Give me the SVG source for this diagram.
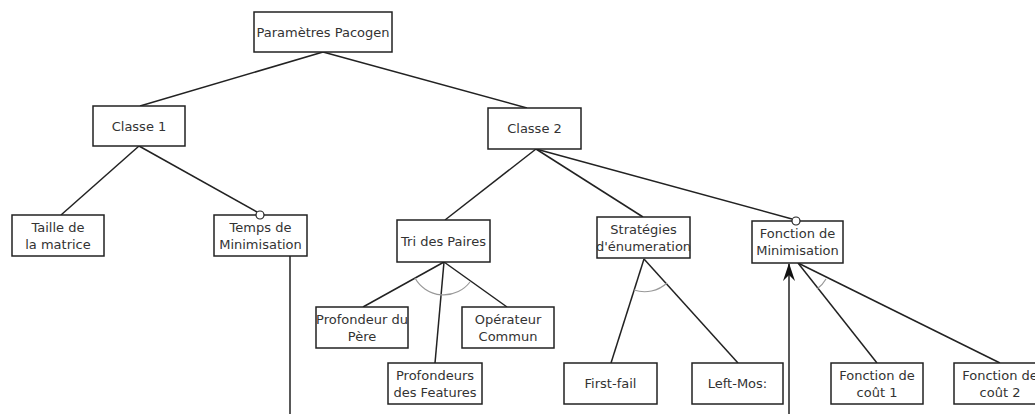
<svg xmlns="http://www.w3.org/2000/svg" width="1035" height="414" viewBox="0 0 1035 414">
<defs>
<style>
.box{fill:#fff;stroke:#222;stroke-width:1.5}
.t{font-family:"DejaVu Sans",sans-serif;font-size:13px;fill:#333;text-anchor:middle}
.c{stroke:#222;stroke-width:1.5;fill:none}
.arc{stroke:#999;stroke-width:1.2;fill:none}
.opt{fill:#fff;stroke:#222;stroke-width:1.2}
</style>
<marker id="ah" viewBox="0 0 18 12" refX="17" refY="6" markerWidth="18" markerHeight="12" markerUnits="userSpaceOnUse" orient="auto">
<path d="M18,6 L0,0 L6,6 L0,12 Z" fill="#111"/>
</marker>
</defs>
<rect width="1035" height="414" fill="#fff"/>
<g id="connectors">
<line class="c" x1="323" y1="52" x2="140" y2="106"/>
<line class="c" x1="323" y1="52" x2="527" y2="108"/>
<line class="c" x1="139" y1="146" x2="61" y2="215"/>
<line class="c" x1="139" y1="146" x2="257" y2="212"/>
<line class="c" x1="290" y1="256" x2="290" y2="414"/>
<line class="c" x1="536" y1="149" x2="445" y2="220"/>
<line class="c" x1="536" y1="149" x2="643" y2="217"/>
<line class="c" x1="536" y1="149" x2="792" y2="219"/>
<line class="c" x1="444" y1="262" x2="363" y2="307"/>
<line class="c" x1="444" y1="262" x2="507" y2="307"/>
<line class="c" x1="444" y1="262" x2="435" y2="363"/>
<path class="arc" d="M415,278 A33,33 0 0 0 470,282"/>
<line class="c" x1="644" y1="259" x2="611" y2="363"/>
<line class="c" x1="644" y1="259" x2="738" y2="363"/>
<path class="arc" d="M634,290 A33,33 0 0 0 667,283"/>
<line class="c" x1="798" y1="263" x2="877" y2="363"/>
<line class="c" x1="798" y1="263" x2="1000" y2="363"/>
<path class="arc" d="M817,289 A32,32 0 0 0 826,279"/>
<line class="c" x1="789" y1="414" x2="789" y2="264" marker-end="url(#ah)"/>
</g>
<g id="n-root"><rect class="box" x="254" y="12" width="138" height="40"/><text class="t" x="323" y="36.5">Paramètres Pacogen</text></g>
<g id="n-classe1"><rect class="box" x="93" y="106" width="92" height="40"/><text class="t" x="139" y="130.5">Classe 1</text></g>
<g id="n-classe2"><rect class="box" x="488" y="108" width="93" height="41"/><text class="t" x="534.5" y="133">Classe 2</text></g>
<g id="n-taille"><rect class="box" x="12" y="215" width="92" height="41"/><text class="t" x="58" y="231.5">Taille de</text><text class="t" x="58" y="248.5">la matrice</text></g>
<g id="n-temps"><rect class="box" x="214" y="215" width="93" height="41"/><text class="t" x="260.5" y="231.5">Temps de</text><text class="t" x="260.5" y="248.5">Minimisation</text><circle class="opt" cx="260" cy="215" r="4"/></g>
<g id="n-tri"><rect class="box" x="397" y="220" width="93" height="42"/><text class="t" x="443.5" y="245.5">Tri des Paires</text></g>
<g id="n-strat"><rect class="box" x="597" y="217" width="93" height="41"/><text class="t" x="643.5" y="233.5">Stratégies</text><text class="t" x="643.5" y="250.5">d'énumeration</text></g>
<g id="n-fmin"><rect class="box" x="752" y="221" width="91" height="42"/><text class="t" x="797.5" y="237.5">Fonction de</text><text class="t" x="797.5" y="254.5">Minimisation</text><circle class="opt" cx="796" cy="221" r="4"/></g>
<g id="n-pere"><rect class="box" x="316" y="307" width="92" height="41"/><text class="t" x="362" y="323.5">Profondeur du</text><text class="t" x="362" y="340.5">Père</text></g>
<g id="n-op"><rect class="box" x="462" y="307" width="92" height="41"/><text class="t" x="508" y="323.5">Opérateur</text><text class="t" x="508" y="340.5">Commun</text></g>
<g id="n-feat"><rect class="box" x="388" y="363" width="94" height="41"/><text class="t" x="435" y="379.5">Profondeurs</text><text class="t" x="435" y="396.5">des Features</text></g>
<g id="n-ff"><rect class="box" x="564" y="363" width="93" height="41"/><text class="t" x="610.5" y="388">First-fail</text></g>
<g id="n-lm"><rect class="box" x="692" y="363" width="91" height="41"/><text class="t" x="737.5" y="388">Left-Mos:</text></g>
<g id="n-c1"><rect class="box" x="831" y="363" width="92" height="41"/><text class="t" x="877" y="379.5">Fonction de</text><text class="t" x="877" y="396.5">coût 1</text></g>
<g id="n-c2"><rect class="box" x="954" y="363" width="92" height="41"/><text class="t" x="1000" y="379.5">Fonction de</text><text class="t" x="1000" y="396.5">coût 2</text></g>
</svg>
